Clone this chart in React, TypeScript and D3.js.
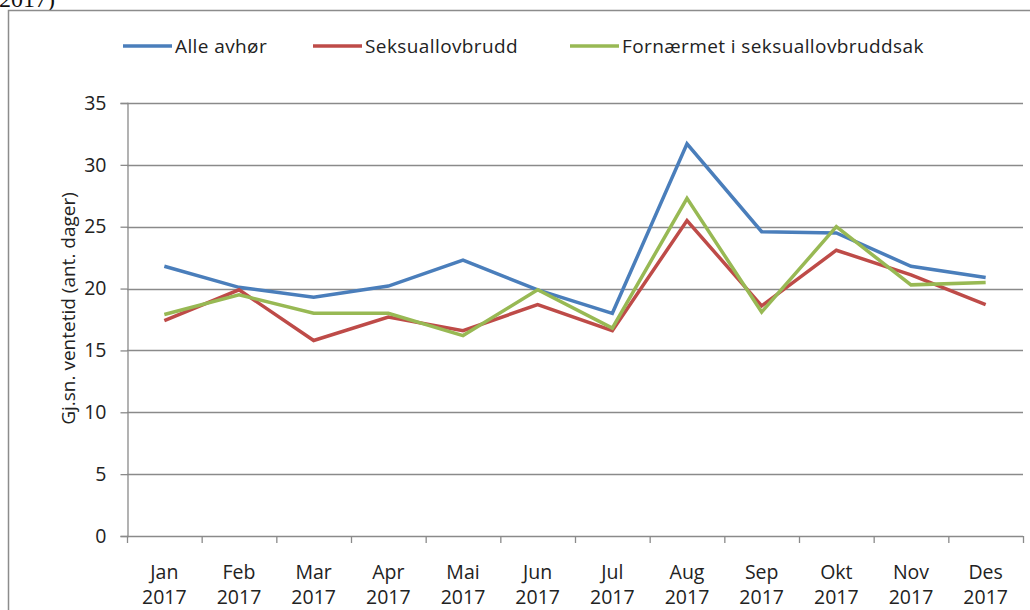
import React, { useEffect, useRef } from "react";
import * as d3 from "d3";

const months = ["Jan", "Feb", "Mar", "Apr", "Mai", "Jun", "Jul", "Aug", "Sep", "Okt", "Nov", "Des"];
const year = "2017";
const alleAvhor = [21.8, 20.1, 19.3, 20.2, 22.3, 19.9, 18.0, 31.7, 24.6, 24.5, 21.8, 20.9];
const seksuallovbrudd = [17.4, 19.9, 15.8, 17.7, 16.6, 18.7, 16.6, 25.5, 18.6, 23.1, 21.1, 18.7];
const fornaermet = [17.9, 19.5, 18.0, 18.0, 16.2, 19.9, 16.8, 27.3, 18.1, 25.0, 20.3, 20.5];
const yTicks = [0, 5, 10, 15, 20, 25, 30, 35];

const series = [
  { name: "Alle avhør", values: alleAvhor, color: "#4a7ebb", legendX: 123 },
  { name: "Seksuallovbrudd", values: seksuallovbrudd, color: "#be4b48", legendX: 313 },
  { name: "Fornærmet i seksuallovbruddsak", values: fornaermet, color: "#98b954", legendX: 570 },
];

const App = () => {
  const svgRef = useRef<SVGSVGElement>(null);

  useEffect(() => {
    const width = 1030;
    const height = 610;
    const font = "Open Sans, Lato, sans-serif";
    const svg = d3.select(svgRef.current).attr("width", width).attr("height", height);
    svg.selectAll("*").remove();

    const left = 127, right = 1023, top = 103, bottom = 536;

    const x = d3.scaleBand().domain(months).range([left, right]);
    const y = d3.scaleLinear().domain([0, 35]).range([bottom, top]);

    // cut-off caption from the page above
    svg.append("text")
      .attr("x", -1).attr("y", 7)
      .style("font-family", "Liberation Serif, serif")
      .style("font-size", "24px")
      .attr("fill", "#111")
      .text("2017)");

    // outer chart border
    svg.append("rect")
      .attr("x", 8.5).attr("y", 10.5)
      .attr("width", 1040).attr("height", 620)
      .attr("fill", "white")
      .attr("stroke", "#8c8c8c")
      .attr("stroke-width", 1.5);

    // gridlines
    svg.append("g")
      .selectAll("line")
      .data(yTicks.filter((t) => t > 0))
      .join("line")
      .attr("x1", left).attr("x2", right)
      .attr("y1", (d) => Math.round(y(d)) + 0.5)
      .attr("y2", (d) => Math.round(y(d)) + 0.5)
      .attr("stroke", "#8a8a8a")
      .attr("stroke-width", 1.3);

    // y axis
    const yAxis = svg.append("g")
      .attr("transform", `translate(${left + 0.5},0)`)
      .call(d3.axisLeft(y).tickValues(yTicks).tickSize(7).tickPadding(14));
    yAxis.select(".domain").attr("stroke", "#8a8a8a").attr("stroke-width", 1.3);
    yAxis.selectAll(".tick line").attr("stroke", "#8a8a8a").attr("stroke-width", 1.3);
    yAxis.selectAll(".tick text")
      .attr("fill", "#222")
      .style("font-family", font)
      .style("font-size", "19.5px");

    // x axis
    svg.append("line")
      .attr("x1", left).attr("x2", right)
      .attr("y1", bottom + 0.5).attr("y2", bottom + 0.5)
      .attr("stroke", "#8a8a8a").attr("stroke-width", 1.3);
    const bounds = months.map((m) => x(m) as number).concat([right]);
    svg.append("g")
      .selectAll("line")
      .data(bounds)
      .join("line")
      .attr("x1", (d) => d + 0.5).attr("x2", (d) => d + 0.5)
      .attr("y1", bottom).attr("y2", bottom + 7)
      .attr("stroke", "#8a8a8a").attr("stroke-width", 1.3);

    const xl = svg.append("g")
      .selectAll("text")
      .data(months)
      .join("text")
      .attr("text-anchor", "middle")
      .attr("fill", "#222")
      .style("font-family", font)
      .style("font-size", "19.5px");
    xl.append("tspan")
      .attr("x", (d) => (x(d) as number) + x.bandwidth() / 2)
      .attr("y", 579)
      .text((d) => d);
    xl.append("tspan")
      .attr("x", (d) => (x(d) as number) + x.bandwidth() / 2)
      .attr("y", 604)
      .text(year);

    // y axis title
    svg.append("text")
      .attr("transform", `translate(75,${(top + bottom) / 2 - 11}) rotate(-90)`)
      .attr("text-anchor", "middle")
      .attr("fill", "#222")
      .style("font-family", font)
      .style("font-size", "19px")
      .text("Gj.sn. ventetid (ant. dager)");

    // lines
    const line = d3.line<number>()
      .x((d, i) => (x(months[i]) as number) + x.bandwidth() / 2)
      .y((d) => y(d));

    svg.append("g")
      .selectAll("path")
      .data(series)
      .join("path")
      .attr("d", (d) => line(d.values))
      .attr("fill", "none")
      .attr("stroke", (d) => d.color)
      .attr("stroke-width", 3.5)
      .attr("stroke-linejoin", "miter");

    // legend
    const lg = svg.append("g")
      .selectAll("g")
      .data(series)
      .join("g")
      .attr("transform", (d) => `translate(${d.legendX},46)`);
    lg.append("line")
      .attr("x1", 0).attr("x2", 49)
      .attr("stroke", (d) => d.color)
      .attr("stroke-width", 3.5);
    lg.append("text")
      .attr("x", 52).attr("y", 7)
      .attr("fill", "#222")
      .style("font-family", font)
      .style("font-size", "19px")
      .style("letter-spacing", "0.4px")
      .text((d) => d.name);
  }, []);

  return (
    <div style={{ position: "absolute", left: 0, top: 0 }}>
      <svg ref={svgRef}></svg>
    </div>
  );
};

export default App;
